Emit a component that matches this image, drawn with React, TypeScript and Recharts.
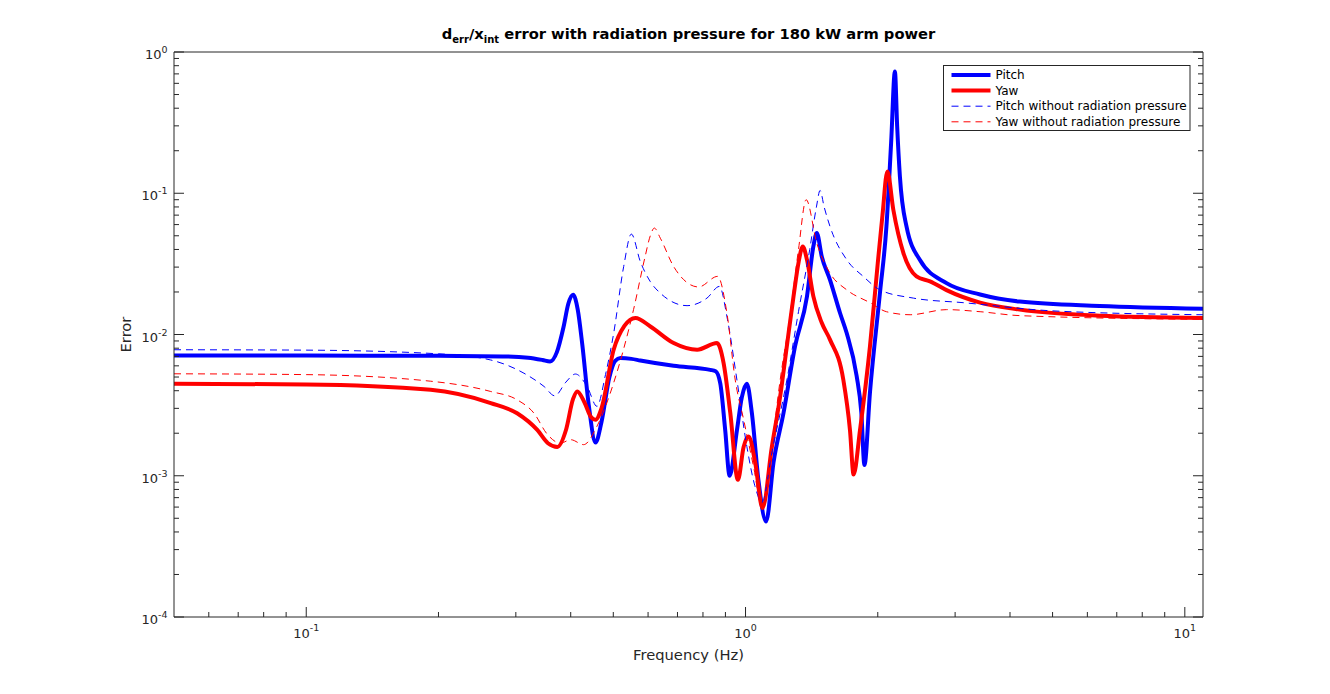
import { Line, LineChart, XAxis, YAxis } from 'recharts'

// [frequency Hz, error]
const pitch: [number, number][] = [
  [0.05, 0.0071], [0.1, 0.00709], [0.2, 0.00706], [0.28, 0.007], [0.32, 0.00685], [0.345, 0.0066],
  [0.359, 0.00644], [0.372, 0.0075], [0.385, 0.0112], [0.395, 0.0165], [0.405, 0.0191], [0.415, 0.015],
  [0.425, 0.0085], [0.44, 0.0031], [0.4555, 0.00172], [0.47, 0.0024], [0.49, 0.005], [0.505, 0.0065],
  [0.519, 0.00681], [0.55, 0.00672], [0.576, 0.00654], [0.686, 0.006], [0.831, 0.00562], [0.855, 0.0055],
  [0.876, 0.0045], [0.899, 0.0021], [0.92, 0.001], [0.956, 0.0021], [0.981, 0.0036], [1.007, 0.00448],
  [1.034, 0.00277], [1.07, 0.00093], [1.114, 0.000474], [1.158, 0.00124], [1.22, 0.00277], [1.297, 0.0083],
  [1.38, 0.0186], [1.427, 0.042], [1.453, 0.0523], [1.491, 0.0357], [1.557, 0.0244], [1.641, 0.0142],
  [1.7, 0.0102], [1.79, 0.0051], [1.835, 0.0028], [1.865, 0.00119], [1.92, 0.0039], [2.023, 0.0197],
  [2.093, 0.0582], [2.145, 0.227], [2.188, 0.729], [2.214, 0.298], [2.246, 0.1316], [2.325, 0.0582],
  [2.493, 0.0338], [2.868, 0.0231], [3.42, 0.0192], [4.21, 0.0171], [6.4, 0.0159], [11, 0.0152],
]

const yaw: [number, number][] = [
  [0.05, 0.00448], [0.1, 0.00443], [0.192, 0.00406], [0.263, 0.00327], [0.302, 0.00277], [0.3357, 0.00211],
  [0.355, 0.0017], [0.373, 0.0016], [0.39, 0.0021], [0.405, 0.0035], [0.414, 0.00395], [0.43, 0.0033],
  [0.445, 0.0026], [0.4555, 0.00249], [0.47, 0.003], [0.501, 0.0078], [0.53, 0.0115], [0.5616, 0.0131],
  [0.6073, 0.0114], [0.686, 0.0087], [0.776, 0.0078], [0.861, 0.0087], [0.8912, 0.0063], [0.923, 0.0028],
  [0.961, 0.000935], [0.99, 0.0016], [1.016, 0.0019], [1.052, 0.00124], [1.093, 0.00059], [1.148, 0.0016],
  [1.199, 0.00364], [1.242, 0.0083], [1.286, 0.0186], [1.32, 0.0322], [1.35, 0.042], [1.38, 0.0338],
  [1.427, 0.0186], [1.491, 0.0121], [1.557, 0.0092], [1.67, 0.00476], [1.729, 0.0021], [1.762, 0.00102],
  [1.822, 0.0021], [1.92, 0.00825], [2.0, 0.032], [2.05, 0.07], [2.103, 0.1427], [2.17, 0.0764],
  [2.288, 0.0377], [2.45, 0.0258], [2.63, 0.0238], [2.868, 0.0206], [3.42, 0.0168], [4.21, 0.015],
  [6.4, 0.0136], [11, 0.0131],
]

const pitchNoRp: [number, number][] = [
  [0.05, 0.0078], [0.1, 0.00775], [0.2, 0.0073], [0.263, 0.0066], [0.313, 0.00532], [0.348, 0.00428],
  [0.368, 0.00368], [0.39, 0.0046], [0.41, 0.00525], [0.436, 0.00428], [0.459, 0.0031], [0.48, 0.0052],
  [0.501, 0.0102], [0.528, 0.0303], [0.5496, 0.0514], [0.576, 0.0329], [0.607, 0.0237], [0.64, 0.0196],
  [0.736, 0.016], [0.817, 0.0181], [0.872, 0.0219], [0.91, 0.0127], [0.956, 0.00476], [1.007, 0.00161],
  [1.05, 0.00085], [1.09, 0.00065], [1.15, 0.0015], [1.242, 0.00476], [1.32, 0.0145], [1.4, 0.04],
  [1.45, 0.08], [1.478, 0.1047], [1.51, 0.08], [1.557, 0.0582], [1.7, 0.0338], [1.853, 0.0258],
  [2.023, 0.0207], [2.41, 0.0181], [3.13, 0.0168], [5, 0.0147], [11, 0.0138],
]

const yawNoRp: [number, number][] = [
  [0.05, 0.00527], [0.1, 0.0052], [0.192, 0.00467], [0.263, 0.00395], [0.302, 0.00345], [0.33, 0.00277],
  [0.3536, 0.00197], [0.379, 0.0017], [0.4, 0.0018], [0.428, 0.00166], [0.459, 0.00224], [0.501, 0.00455],
  [0.556, 0.015], [0.59, 0.035], [0.607, 0.05], [0.62, 0.0567], [0.64, 0.048], [0.686, 0.0303],
  [0.782, 0.0217], [0.864, 0.0258], [0.907, 0.0142], [0.9475, 0.00476], [0.99, 0.0025], [1.043, 0.00116],
  [1.09, 0.0006], [1.15, 0.0017], [1.199, 0.00476], [1.26, 0.013], [1.32, 0.04], [1.374, 0.09],
  [1.453, 0.0443], [1.557, 0.0272], [1.7, 0.0207], [1.92, 0.0168], [2.093, 0.0145], [2.37, 0.0138],
  [2.868, 0.015], [3.42, 0.0145], [4.21, 0.0136], [11, 0.0128],
]

const xMajorTicks = [0.1, 1, 10]
const xMinorTicks = [0.06, 0.07, 0.08, 0.09, 0.2, 0.3, 0.4, 0.5, 0.6, 0.7, 0.8, 0.9, 2, 3, 4, 5, 6, 7, 8, 9]
const yMajorTicks = [1e-4, 1e-3, 1e-2, 1e-1, 1]
const yMinorTicks = [
  2e-4, 3e-4, 4e-4, 5e-4, 6e-4, 7e-4, 8e-4, 9e-4,
  2e-3, 3e-3, 4e-3, 5e-3, 6e-3, 7e-3, 8e-3, 9e-3,
  2e-2, 3e-2, 4e-2, 5e-2, 6e-2, 7e-2, 8e-2, 9e-2,
  0.2, 0.3, 0.4, 0.5, 0.6, 0.7, 0.8, 0.9,
]

const series = [
  { name: 'Pitch', points: pitch, color: '#0000ff', width: 4, dash: undefined },
  { name: 'Yaw', points: yaw, color: '#ff0000', width: 4, dash: undefined },
  { name: 'Pitch without radiation pressure', points: pitchNoRp, color: '#0000ff', width: 1, dash: '7 5' },
  { name: 'Yaw without radiation pressure', points: yawNoRp, color: '#ff0000', width: 1, dash: '7 5' },
]

const AXIS = '#262626'
const FONT = '"DejaVu Sans", sans-serif'
const W = 1330
const H = 694
const PLOT = { left: 174, right: 1203, top: 52, bottom: 617 }

function LogTick(props: any) {
  const { x, y, payload, side, majors } = props
  const v = payload.value
  const major = majors.includes(v)
  const len = major ? 10 : 5
  let x2 = x
  let y2 = y
  if (side === 'bottom') y2 = y - len
  if (side === 'top') y2 = y + len
  if (side === 'left') x2 = x + len
  if (side === 'right') x2 = x - len
  const exp = Math.round(Math.log10(v))
  return (
    <g>
      <line x1={x} y1={y} x2={x2} y2={y2} stroke={AXIS} strokeWidth={1} />
      {major && side === 'bottom' && (
        <text x={x} y={y + 20.5} textAnchor="middle" fontSize={13} fill={AXIS} fontFamily={FONT}>
          10<tspan dy={-6.5} fontSize={9.5}>{exp}</tspan>
        </text>
      )}
      {major && side === 'left' && (
        <text x={x - 6.5} y={y + 7} textAnchor="end" fontSize={13} fill={AXIS} fontFamily={FONT}>
          10<tspan dy={-6} fontSize={9.5}>{exp}</tspan>
        </text>
      )}
    </g>
  )
}

const xTicks = [...xMinorTicks, ...xMajorTicks]
const yTicks = [...yMinorTicks, ...yMajorTicks]

export default function App() {
  const midX = (PLOT.left + PLOT.right) / 2
  const midY = (PLOT.top + PLOT.bottom) / 2
  return (
    <div style={{ position: 'fixed', left: 0, top: 0, width: W, height: H, background: '#fff' }}>
      <LineChart
        width={W}
        height={H}
        margin={{ top: PLOT.top - 10, right: W - PLOT.right - 10, bottom: H - PLOT.bottom - 40, left: PLOT.left - 60 }}
      >
        <XAxis
          dataKey="f"
          type="number"
          scale="log"
          domain={[0.05, 11]}
          allowDataOverflow
          ticks={xTicks}
          interval={0}
          tickSize={0}
          tickMargin={0}
          tickLine={false}
          height={40}
          axisLine={{ stroke: AXIS }}
          tick={(p: any) => <LogTick {...p} side="bottom" majors={xMajorTicks} />}
        />
        <XAxis
          xAxisId="top"
          orientation="top"
          type="number"
          scale="log"
          domain={[0.05, 11]}
          allowDataOverflow
          ticks={xTicks}
          interval={0}
          tickSize={0}
          tickMargin={0}
          tickLine={false}
          height={10}
          axisLine={{ stroke: AXIS }}
          tick={(p: any) => <LogTick {...p} side="top" majors={xMajorTicks} />}
        />
        <YAxis
          dataKey="e"
          type="number"
          scale="log"
          domain={[1e-4, 1]}
          allowDataOverflow
          ticks={yTicks}
          interval={0}
          tickSize={0}
          tickMargin={0}
          tickLine={false}
          width={60}
          axisLine={{ stroke: AXIS }}
          tick={(p: any) => <LogTick {...p} side="left" majors={yMajorTicks} />}
        />
        <YAxis
          yAxisId="right"
          orientation="right"
          type="number"
          scale="log"
          domain={[1e-4, 1]}
          allowDataOverflow
          ticks={yTicks}
          interval={0}
          tickSize={0}
          tickMargin={0}
          tickLine={false}
          width={10}
          axisLine={{ stroke: AXIS }}
          tick={(p: any) => <LogTick {...p} side="right" majors={yMajorTicks} />}
        />
        {series.map((s) => (
          <Line
            key={s.name}
            data={s.points.map(([f, e]) => ({ f, e }))}
            dataKey="e"
            type="monotone"
            stroke={s.color}
            strokeWidth={s.width}
            strokeDasharray={s.dash}
            strokeLinejoin="round"
            dot={false}
            activeDot={false}
            isAnimationActive={false}
          />
        ))}
      </LineChart>
      <svg
        width={W}
        height={H}
        style={{ position: 'absolute', left: 0, top: 0, pointerEvents: 'none' }}
        fontFamily={FONT}
      >
        <text x={midX} y={38.5} textAnchor="middle" fontSize={14.7} fontWeight="bold" fill="#000">
          d<tspan dy={4.5} fontSize={10}>err</tspan>
          <tspan dy={-4.5}>/x</tspan>
          <tspan dy={4.5} fontSize={10}>int</tspan>
          <tspan dy={-4.5}> error with radiation pressure for 180 kW arm power</tspan>
        </text>
        <text x={midX} y={660} textAnchor="middle" fontSize={14.7} fill={AXIS}>
          Frequency (Hz)
        </text>
        <text x={131} y={midY} textAnchor="middle" fontSize={14.7} fill={AXIS} transform={`rotate(-90 131 ${midY})`}>
          Error
        </text>
        <rect x={943.5} y={65.5} width={246.5} height={65} fill="#fff" stroke={AXIS} strokeWidth={1} />
        {series.map((s, i) => {
          const cy = 75 + i * 15.6
          return (
            <g key={s.name}>
              <line x1={951.5} x2={990.5} y1={cy} y2={cy} stroke={s.color} strokeWidth={s.width} strokeDasharray={s.dash} />
              <text x={995.5} y={cy} dominantBaseline="central" fontSize={12} fill="#000">
                {s.name}
              </text>
            </g>
          )
        })}
      </svg>
    </div>
  )
}
